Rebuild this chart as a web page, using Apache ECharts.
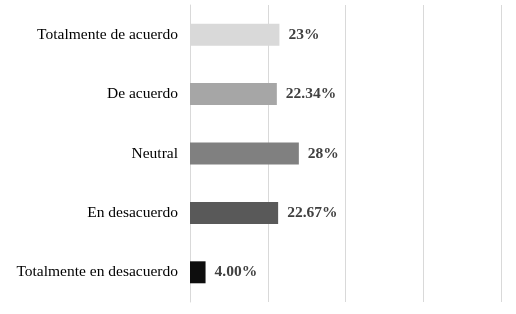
<!DOCTYPE html>
<html>
<head>
<meta charset="utf-8">
<script src="https://cdn.jsdelivr.net/npm/echarts@6/dist/echarts.min.js"></script>
<style>html,body{margin:0;padding:0;background:#fff;}#c{width:516px;height:314px;}</style>
</head>
<body>
<div id="c"></div>
<script>
const categories = ["Totalmente en desacuerdo", "En desacuerdo", "Neutral", "De acuerdo", "Totalmente de acuerdo"];
const values = [4.00, 22.67, 28, 22.34, 23];
const valueLabels = ["4.00%", "22.67%", "28%", "22.34%", "23%"];
const barColors = ["#0d0d0d", "#595959", "#808080", "#a6a6a6", "#d9d9d9"];

const chart = echarts.init(document.getElementById('c'), null, {renderer: 'canvas'});
chart.setOption({
  animation: false,
  backgroundColor: '#ffffff',
  grid: {left: 190, right: 15, top: 5, bottom: 12, containLabel: false},
  xAxis: {
    type: 'value', min: 0, max: 80, interval: 20,
    axisLabel: {show: false}, axisLine: {show: false}, axisTick: {show: false},
    splitLine: {show: true, lineStyle: {color: '#d9d9d9', width: 1}}
  },
  yAxis: {
    type: 'category', data: categories,
    axisLine: {show: true, lineStyle: {color: '#d9d9d9'}},
    axisTick: {show: false},
    axisLabel: {color: '#000', fontFamily: 'Liberation Serif', fontSize: 15.5, margin: 12}
  },
  series: [{
    type: 'bar',
    barWidth: '37%',
    data: values.map((v, i) => ({value: v, itemStyle: {color: barColors[i]}})),
    label: {
      show: true, position: 'right', distance: 9,
      fontFamily: 'Liberation Serif', fontWeight: 'bold', fontSize: 15.5, color: '#404040',
      formatter: p => valueLabels[p.dataIndex]
    }
  }]
});
</script>
</body>
</html>
